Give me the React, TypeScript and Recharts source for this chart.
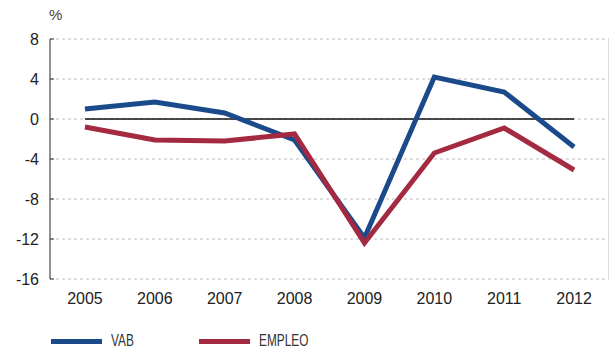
import { LineChart, Line, XAxis, YAxis, CartesianGrid, Legend, ReferenceLine } from 'recharts';

const YEARS = ['2005', '2006', '2007', '2008', '2009', '2010', '2011', '2012'];
const VAB = [1.0, 1.7, 0.6, -2.1, -11.9, 4.2, 2.7, -2.8];
const EMPLEO = [-0.8, -2.1, -2.2, -1.5, -12.4, -3.4, -0.9, -5.1];
const Y_TICKS = [-16, -12, -8, -4, 0, 4, 8];

const BLUE = '#1b4a8b';
const RED = '#a32a40';

const data = YEARS.map((year, i) => ({ i, year, vab: VAB[i], empleo: EMPLEO[i] }));
const centers = YEARS.map((_, i) => i);
const bounds = YEARS.slice(1).map((_, i) => i + 0.5);

const renderLegend = () => (
  <div style={{ position: 'relative', width: 609, height: 32 }}>
    {[
      { name: 'VAB', color: BLUE, left: 51 },
      { name: 'EMPLEO', color: RED, left: 199 },
    ].map((item) => (
      <div key={item.name} style={{ position: 'absolute', left: item.left, top: 8, display: 'flex', alignItems: 'center' }}>
        <div style={{ width: 51, height: 5, background: item.color }} />
        <span
          style={{
            marginLeft: 9,
            display: 'inline-block',
            transform: 'scaleX(0.74)',
            transformOrigin: 'left center',
            fontFamily: '"Liberation Sans", Arial, sans-serif',
            fontSize: 16,
            color: '#333',
          }}
        >
          {item.name}
        </span>
      </div>
    ))}
  </div>
);

export default function App() {
  return (
    <div style={{ position: 'absolute', left: 0, top: 0, width: 609, height: 356, background: '#fff' }}>
      <div
        style={{
          position: 'absolute',
          left: 49,
          top: 6,
          fontFamily: '"Liberation Sans", Arial, sans-serif',
          fontSize: 15,
          color: '#444',
        }}
      >
        %
      </div>
      <LineChart width={609} height={356} data={data} margin={{ top: 39, right: 0, left: 0, bottom: 0 }}>
        <CartesianGrid xAxisId="b" stroke="#bbb" strokeDasharray="3 3" vertical={false} />
        <CartesianGrid xAxisId="b" stroke="#d2d2d2" strokeWidth={1.5} horizontal={false} />
        <XAxis
          xAxisId="main"
          dataKey="i"
          type="number"
          domain={[-0.5, YEARS.length - 0.5]}
          ticks={centers}
          tickFormatter={(v) => YEARS[v]}
          axisLine={false}
          tickLine={false}
          tickMargin={8}
          height={45}
          tick={{ fontSize: 16, fill: '#222', fontFamily: '"Liberation Sans", Arial, sans-serif' }}
        />
        <XAxis
          xAxisId="b"
          dataKey="i"
          type="number"
          domain={[-0.5, YEARS.length - 0.5]}
          ticks={bounds}
          tick={false}
          axisLine={{ stroke: '#777', strokeWidth: 1.5 }}
          tickLine={{ stroke: '#333' }}
          tickSize={-5}
          height={0}
        />
        <YAxis
          domain={[-16, 8]}
          ticks={Y_TICKS}
          width={50}
          axisLine={{ stroke: '#777', strokeWidth: 1.5 }}
          tickLine={{ stroke: '#333' }}
          tickSize={-4}
          tickMargin={15}
          tick={{ fontSize: 16, fill: '#222', fontFamily: '"Liberation Sans", Arial, sans-serif' }}
        />
        <ReferenceLine
          xAxisId="main"
          segment={[
            { x: 0, y: 0 },
            { x: YEARS.length - 1, y: 0 },
          ]}
          stroke="#111"
          strokeWidth={1.3}
        />
        <Legend verticalAlign="bottom" content={renderLegend} />
        <Line
          xAxisId="main"
          type="linear"
          dataKey="vab"
          name="VAB"
          stroke={BLUE}
          strokeWidth={5}
          dot={false}
          isAnimationActive={false}
        />
        <Line
          xAxisId="main"
          type="linear"
          dataKey="empleo"
          name="EMPLEO"
          stroke={RED}
          strokeWidth={5}
          dot={false}
          isAnimationActive={false}
        />
      </LineChart>
    </div>
  );
}
